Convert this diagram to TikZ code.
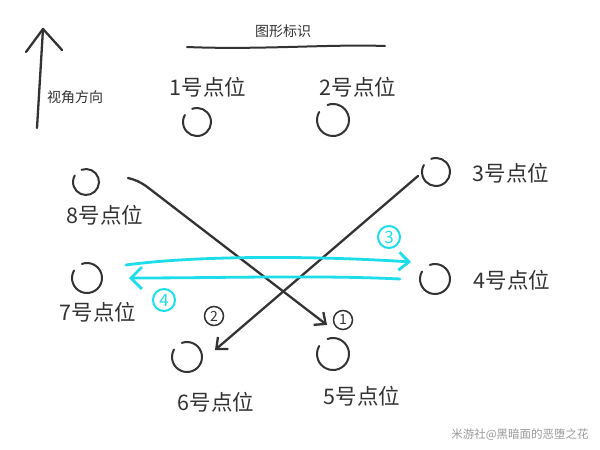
\documentclass[tikz,border=0pt]{standalone}
\usepackage{fontspec}
\setmainfont{Noto Sans CJK SC}
\usetikzlibrary{arrows.meta}
\definecolor{ink}{HTML}{333333}
\definecolor{cy}{HTML}{1EDDEB}
\definecolor{wm}{HTML}{9A9A9A}
\tikzset{
  lbl/.style={font=\fontsize{21.5}{21.5}\selectfont, text=ink, inner sep=0pt},
  small/.style={font=\fontsize{14}{14}\selectfont, text=ink, inner sep=0pt},
  pen/.style={draw=ink, line width=2.3pt, line cap=round, line join=round},
  cpen/.style={draw=cy, line width=2.8pt, line cap=round, line join=round},
  num/.style={circle, draw=ink, line width=1.5pt, inner sep=0pt, minimum size=19pt, font=\fontsize{14}{14}\selectfont, text=ink},
  cnum/.style={circle, draw=cy, line width=2pt, inner sep=0pt, minimum size=22pt, font=\fontsize{17}{17}\selectfont, text=cy},
  barb/.style={-{Straight Barb[length=9pt,width=16pt,line width=2.3pt]}},
}
\begin{document}
\begin{tikzpicture}[x=1pt,y=-1pt]
\useasboundingbox[fill=white] (0,0) rectangle (600,450);
% viewing direction arrow
\coordinate (vb) at (37,128);
\coordinate (vt) at (43,29);
\coordinate (vl) at (26,52);
\coordinate (vr) at (62,50);
\draw[pen] (vb) -- (vt);
\draw[pen] (vl) -- (vt) -- (vr);
\node[small] (view) at (75,97) {视角方向};
% legend title
\node[small] (title) at (283,31) {图形标识};
\coordinate (tl) at (187,47);
\coordinate (tr) at (385,46);
\draw[pen, line width=2pt] (tl) .. controls (260,50) and (330,44) .. (tr);
% points: circles (hand-drawn, open at top-left)
\foreach \n/\x/\y/\r in {1/197/122/14, 2/333/120/16, 3/436/172/14, 4/435/279/15, 5/333/354/16, 6/187/357/15, 7/87/278/15, 8/86/182/13}{
  \coordinate (c\n) at (\x,\y);
  \draw[pen, line width=2pt] ([shift={(250:\r)}]c\n) arc[start angle=250, end angle=570, radius=\r];
}
\node[lbl] (l1) at (208,87) {1号点位};
\node[lbl] (l2) at (358,87) {2号点位};
\node[lbl] (l3) at (511,173) {3号点位};
\node[lbl] (l4) at (512,280) {4号点位};
\node[lbl] (l5) at (362,396) {5号点位};
\node[lbl] (l6) at (216,402) {6号点位};
\node[lbl] (l7) at (98,312) {7号点位};
\node[lbl] (l8) at (105,215) {8号点位};
% black arrows
\coordinate (a1s) at (128,178);
\coordinate (a1e) at (327,325);
\draw[pen, barb] (a1s) .. controls (136,180) and (140,182) .. (146,186) -- (a1e);
\coordinate (a2s) at (418,176);
\coordinate (a2e) at (215,350);
\draw[pen, barb] (a2s) -- (a2e);
% cyan arrows
\coordinate (b3s) at (126,265);
\coordinate (b3e) at (411,262);
\draw[cpen, -{Straight Barb[length=10pt,width=18pt,line width=2.8pt]}] (b3s) .. controls (200,255) and (320,256) .. (b3e);
\coordinate (b4s) at (400,279);
\coordinate (b4e) at (129,278);
\draw[cpen, -{Straight Barb[length=11pt,width=22pt,line width=2.8pt]}] (b4s) .. controls (320,275) and (220,278) .. (b4e);
% step numbers
\node[num] (n1) at (343,320) {1};
\node[num] (n2) at (214,316) {2};
\node[cnum] (n3) at (389,237) {3};
\node[cnum] (n4) at (164,300) {4};
% watermark
\node[font=\fontsize{11.5}{11.5}\selectfont, text=wm, inner sep=0pt] (wm) at (520,435) {米游社@黑暗面的恶堕之花};
\end{tikzpicture}
\end{document}
